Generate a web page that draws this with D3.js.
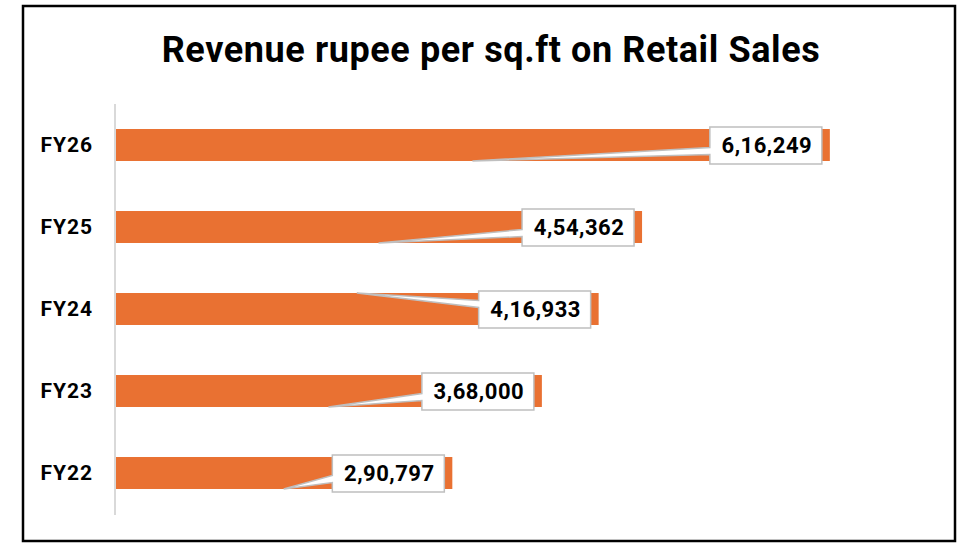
<!DOCTYPE html>
<html>
<head>
<meta charset="utf-8">
<script src="https://cdn.jsdelivr.net/npm/d3@7"></script>
<style>
  body { margin: 0; background: #fff; }
  svg { display: block; font-family: Roboto, "Liberation Sans", sans-serif; }
</style>
</head>
<body>
<svg id="chart"></svg>
<script>
// data
const categories = ["FY26", "FY25", "FY24", "FY23", "FY22"];
const values = [616249, 454362, 416933, 368000, 290797];
// which way each label's pointer goes (Excel placed them by hand)
const pointerSide = ["bottom", "bottom", "top", "bottom", "bottom"];
const title = "Revenue rupee per sq.ft on Retail Sales";

const width = 962, height = 544;
const margin = {top: 104, right: 35, bottom: 30, left: 115};

const data = categories.map((c, i) => ({cat: c, value: values[i], side: pointerSide[i]}));

const svg = d3.select("#chart")
    .attr("width", width)
    .attr("height", height);

// outer frame
svg.append("rect")
    .attr("x", 23).attr("y", 6)
    .attr("width", 932).attr("height", 535)
    .attr("fill", "#fff")
    .attr("stroke", "#000")
    .attr("stroke-width", 2.5);

svg.append("text")
    .attr("x", 491).attr("y", 62)
    .attr("text-anchor", "middle")
    .attr("font-size", 36)
    .attr("font-weight", 700)
    .attr("letter-spacing", 0.6)
    .attr("fill", "#000")
    .text(title);

const x = d3.scaleLinear()
    .domain([0, 700000])
    .range([margin.left, width - margin.right]);

const y = d3.scaleBand()
    .domain(categories)
    .range([margin.top, 514])
    .paddingInner(0.61)
    .paddingOuter(0.305);

// category labels
svg.selectAll(".cat")
    .data(data)
    .enter()
    .append("text")
        .attr("x", 93)
        .attr("y", d => y(d.cat) + y.bandwidth() / 2)
        .attr("dy", "0.35em")
        .attr("text-anchor", "end")
        .attr("font-size", 21)
        .attr("font-weight", 700)
        .attr("letter-spacing", 1)
        .attr("fill", "#000")
        .text(d => d.cat);

// bars
svg.selectAll(".bar")
    .data(data)
    .enter()
    .append("rect")
        .attr("x", x(0))
        .attr("y", d => y(d.cat))
        .attr("width", d => x(d.value) - x(0))
        .attr("height", y.bandwidth())
        .attr("fill", "#E97132");

// vertical axis line
svg.append("line")
    .attr("x1", x(0)).attr("x2", x(0))
    .attr("y1", 104).attr("y2", 515)
    .attr("stroke", "#d9d9d9")
    .attr("stroke-width", 2);

// callout labels: box with a pointer to the bar's middle
const boxW = 112, boxH = 37;
const fmt = v => v.toLocaleString("en-IN");

data.forEach(d => {
    const right = x(d.value) - 8;
    const left = right - boxW;
    const cy = y(d.cat) + y.bandwidth() / 2 + 0.5;
    const top = cy - boxH / 2, bottom = cy + boxH / 2;
    const tipX = x(0) + (x(d.value) - x(0)) / 2;
    let tipY, b1, b2;
    if (d.side === "bottom") {
        tipY = y(d.cat) + y.bandwidth();
        b1 = cy + 2; b2 = cy + 9;
    } else {
        tipY = y(d.cat);
        b1 = cy - 9; b2 = cy - 2;
    }
    const p = d3.path();
    p.moveTo(left, top);
    p.lineTo(right, top);
    p.lineTo(right, bottom);
    p.lineTo(left, bottom);
    p.lineTo(left, b2);
    p.lineTo(tipX, tipY);
    p.lineTo(left, b1);
    p.closePath();

    svg.append("path")
        .attr("d", p.toString())
        .attr("fill", "#fff")
        .attr("stroke", "#bfbfbf")
        .attr("stroke-width", 1.5)
        .attr("stroke-linejoin", "miter");

    svg.append("text")
        .attr("x", left + boxW / 2 + 1)
        .attr("y", cy)
        .attr("dy", "0.36em")
        .attr("text-anchor", "middle")
        .attr("font-size", 22)
        .attr("font-weight", 700)
        .attr("letter-spacing", 0.5)
        .attr("fill", "#000")
        .text(fmt(d.value));
});
</script>
</body>
</html>
